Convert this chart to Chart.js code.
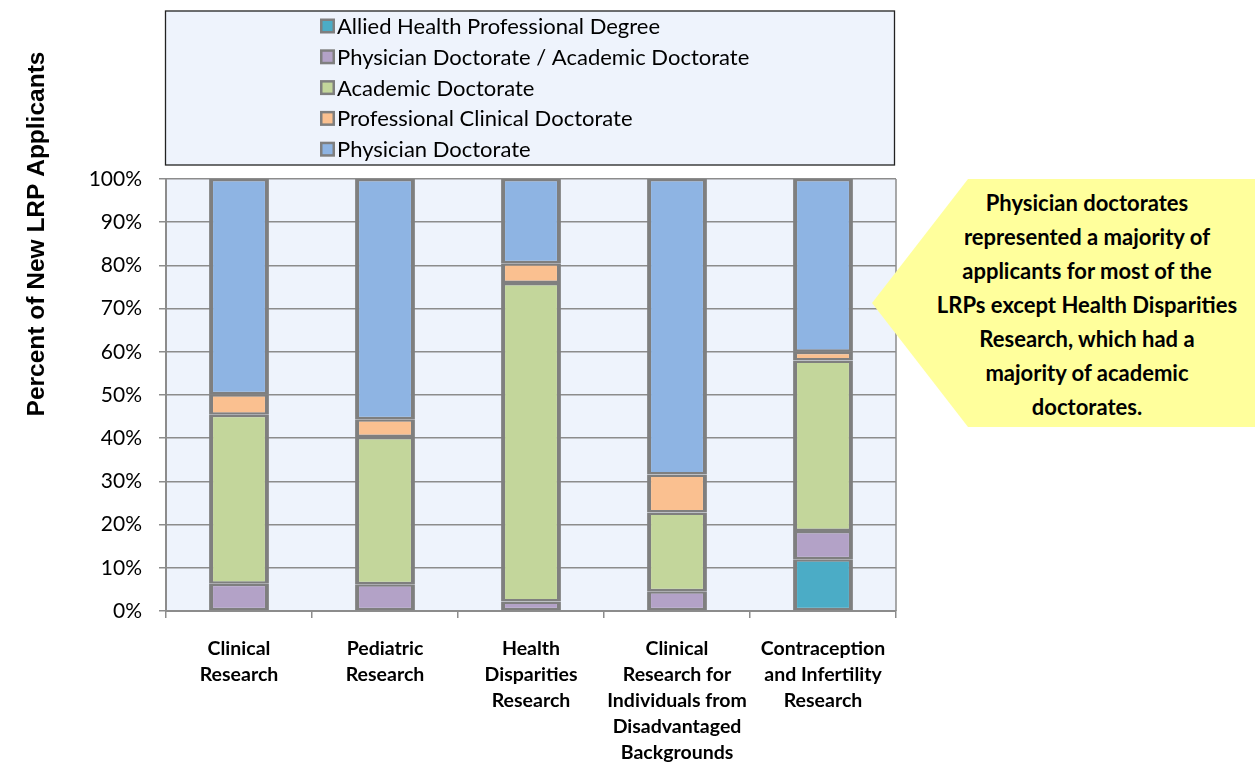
<!DOCTYPE html>
<html>
<head>
<meta charset="utf-8">
<script src="https://cdn.jsdelivr.net/npm/chart.js@4.4.1/dist/chart.umd.min.js"></script>
<style>
  html, body { margin: 0; padding: 0; background: #ffffff; }
  #wrap { position: relative; width: 1255px; height: 764px; overflow: hidden; }
  #c { position: absolute; left: 0; top: 0; }
  #callout {
    position: absolute; left: 872px; top: 179px; width: 383px; height: 248px;
    background: #FFFF9C;
    clip-path: polygon(0 124px, 96px 0, 100% 0, 100% 100%, 96px 100%);
  }
  #callout .txt {
    position: absolute; left: 55px; width: 320px; top: 7px;
    font-family: Lato, "Open Sans", sans-serif; font-weight: bold; font-size: 22px;
    line-height: 34px; text-align: center; color: #000;
  }
</style>
</head>
<body>
<div id="wrap">
  <canvas id="c" width="1255" height="764"></canvas>
  <div id="callout"><div class="txt">Physician doctorates<br>represented a majority of<br>applicants for most of the<br>LRPs except Health Disparities<br>Research, which had a<br>majority of academic<br>doctorates.</div></div>
</div>
<script>
// ---- data ----
const categories = [
  ['Clinical', 'Research'],
  ['Pediatric', 'Research'],
  ['Health', 'Disparities', 'Research'],
  ['Clinical', 'Research for', 'Individuals from', 'Disadvantaged', 'Backgrounds'],
  ['Contraception', 'and Infertility', 'Research']
];
const seriesNames = [
  'Allied Health Professional Degree',
  'Physician Doctorate / Academic Doctorate',
  'Academic Doctorate',
  'Professional Clinical Doctorate',
  'Physician Doctorate'
];
const alliedHealth = [0, 0, 0, 0, 12.0];
const physicianAcademic = [6.3, 6.2, 2.2, 4.6, 6.5];
const academicDoctorate = [39.1, 34.1, 73.7, 18.2, 39.5];
const professionalClinical = [4.8, 4.1, 4.6, 8.8, 2.0];
const physicianDoctorate = [49.8, 55.6, 19.5, 68.4, 40.0];
const yTicks = [0, 10, 20, 30, 40, 50, 60, 70, 80, 90, 100];
const yTitle = 'Percent of New LRP Applicants';
const seriesColors = ['#4BACC6', '#B3A2C7', '#C3D69B', '#FAC090', '#8EB4E3'];

const seriesValues = [alliedHealth, physicianAcademic, academicDoctorate, professionalClinical, physicianDoctorate];

const datasets = seriesNames.map((name, i) => ({
  label: name,
  data: seriesValues[i],
  backgroundColor: seriesColors[i],
  borderColor: '#7F7F7F',
  borderWidth: { left: 4, right: 4, top: 2.5, bottom: 2.5 },
  borderSkipped: false,
  barPercentage: 0.41,
  categoryPercentage: 1.0
}));

const decor = {
  id: 'decor',
  beforeDraw(chart) {
    const { ctx, chartArea: a } = chart;
    ctx.save();
    ctx.fillStyle = '#EEF3FC';
    ctx.fillRect(a.left, a.top, a.right - a.left, a.bottom - a.top);
    ctx.restore();
  },
  beforeDatasetsDraw(chart) {
    const { ctx, chartArea: a } = chart;
    ctx.save();
    ctx.strokeStyle = '#8C8C8C';
    ctx.lineWidth = 1.5;
    ctx.beginPath();
    ctx.moveTo(a.right, a.top);
    ctx.lineTo(a.right, a.bottom);
    ctx.stroke();
    ctx.restore();
  },
  afterDraw(chart) {
    const { ctx } = chart;
    ctx.save();
    // legend box
    ctx.fillStyle = '#EEF3FC';
    ctx.fillRect(165, 11, 729, 154);
    ctx.strokeStyle = '#222';
    ctx.lineWidth = 1.3;
    ctx.strokeRect(165.5, 11, 729, 154);
    ctx.font = '22px Lato, "Open Sans", sans-serif';
    ctx.textBaseline = 'middle';
    ctx.textAlign = 'left';
    chart.data.datasets.forEach((ds, i) => {
      const cy = 26 + i * 30.8;
      ctx.fillStyle = '#7F7F7F';
      ctx.fillRect(320, cy - 7.5, 15, 15);
      ctx.fillStyle = ds.backgroundColor;
      ctx.fillRect(322.5, cy - 5, 10, 10);
      ctx.fillStyle = '#000';
      ctx.fillText(ds.label, 337, cy + 1);
    });
    // y axis title
    ctx.translate(37, 234);
    ctx.rotate(-Math.PI / 2);
    ctx.font = 'bold 24.5px "Liberation Sans", Arial, sans-serif';
    ctx.textAlign = 'center';
    ctx.textBaseline = 'middle';
    ctx.fillStyle = '#000';
    ctx.fillText(yTitle, 0, 0);
    ctx.restore();
  }
};

new Chart(document.getElementById('c'), {
  type: 'bar',
  data: { labels: categories, datasets },
  options: {
    responsive: false,
    animation: false,
    devicePixelRatio: 1,
    layout: { padding: { top: 179, right: 359, bottom: 0, left: 0 } },
    plugins: { legend: { display: false }, tooltip: { enabled: false } },
    scales: {
      x: {
        stacked: true,
        grid: { display: true, drawOnChartArea: false, offset: true, tickLength: 7, color: '#8C8C8C', lineWidth: 1.5 },
        border: { display: true, color: '#8C8C8C', width: 2 },
        ticks: {
          color: '#000',
          padding: 18,
          maxRotation: 0,
          autoSkip: false,
          font: { family: 'Lato, "Open Sans", sans-serif', size: 19.5, weight: 'bold', lineHeight: '26px' }
        },
        afterFit(scale) { scale.height = 153; }
      },
      y: {
        stacked: true,
        min: 0,
        max: 100,
        afterBuildTicks(scale) { scale.ticks = yTicks.map(v => ({ value: v })); },
        grid: { color: '#8C8C8C', lineWidth: 1.5, tickLength: 7 },
        border: { display: true, color: '#8C8C8C', width: 2 },
        ticks: {
          color: '#000',
          padding: 17,
          font: { family: 'Lato, "Open Sans", sans-serif', size: 21 },
          callback: v => v + '%'
        },
        afterFit(scale) { scale.width = 166; }
      }
    }
  },
  plugins: [decor]
});
</script>
</body>
</html>
